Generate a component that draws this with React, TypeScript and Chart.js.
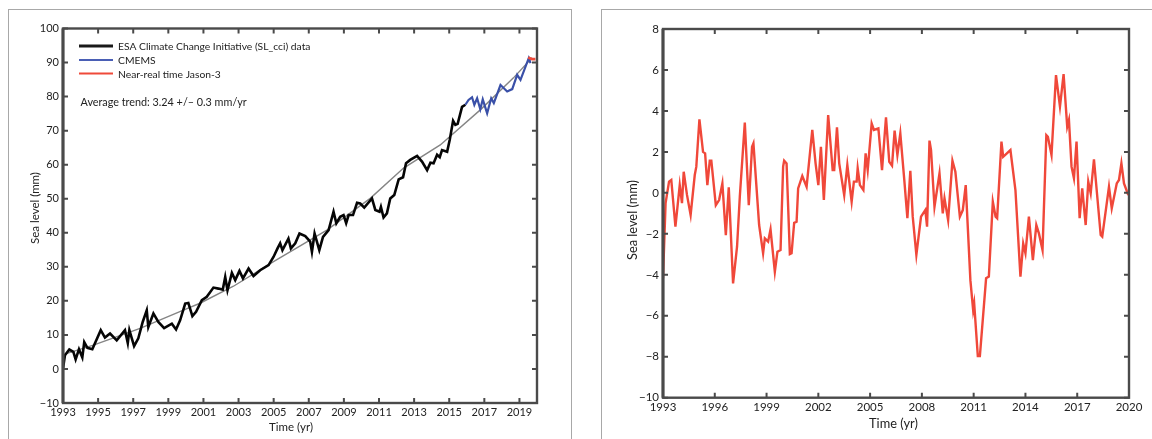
import { useEffect, useRef } from 'react';
import { Chart, registerables } from 'chart.js';

Chart.register(...registerables);

const FONT = 'Lato';
const AXIS = '#4a4a4a';
const TEXT = '#222222';

const leftXTicks = [1993, 1995, 1997, 1999, 2001, 2003, 2005, 2007, 2009, 2011, 2013, 2015, 2017, 2019];
const leftYTicks = [-10, 0, 10, 20, 30, 40, 50, 60, 70, 80, 90, 100];
const rightXTicks = [1993, 1996, 1999, 2002, 2005, 2008, 2011, 2014, 2017, 2020];
const rightYTicks = [-10, -8, -6, -4, -2, 0, 2, 4, 6, 8];

const esaYears = [
  1993.0, 1993.11, 1993.36, 1993.59, 1993.72, 1993.91, 1994.1, 1994.21, 1994.39, 1994.67, 1995.15, 1995.39,
  1995.68, 1996.06, 1996.53, 1996.69, 1996.78, 1997.05, 1997.29, 1997.54, 1997.77, 1997.86, 1998.15, 1998.43,
  1998.76, 1999.2, 1999.44, 1999.67, 1999.96, 2000.14, 2000.37, 2000.58, 2000.91, 2001.19, 2001.57, 2001.85,
  2002.1, 2002.24, 2002.37, 2002.62, 2002.81, 2003.05, 2003.25, 2003.57, 2003.85, 2004.23, 2004.71, 2004.99,
  2005.22, 2005.37, 2005.5, 2005.84, 2005.98, 2006.23, 2006.47, 2006.8, 2007.08, 2007.18, 2007.33, 2007.6,
  2007.81, 2008.13, 2008.41, 2008.57, 2008.79, 2008.98, 2009.13, 2009.27, 2009.52, 2009.75, 2009.93, 2010.16,
  2010.6, 2010.79, 2011.03, 2011.11, 2011.26, 2011.45, 2011.64, 2011.87, 2012.12, 2012.37, 2012.54, 2012.78,
  2013.17, 2013.45, 2013.74, 2013.93, 2014.11, 2014.31, 2014.46, 2014.59, 2014.88, 2015.03, 2015.22, 2015.35,
  2015.48, 2015.73, 2015.92,
];
const esaLevel = [
  0.1, 4, 5.7, 5, 2.8, 5.8, 3.4, 7.9, 6.2, 5.8, 11.4, 9.2,
  10.4, 8.4, 11.4, 7.6, 11.4, 6.7, 9, 13.8, 17.2, 12.3, 16.3, 13.8,
  12, 13.3, 11.6, 14.3, 19.2, 19.4, 15.5, 16.8, 20.2, 21.2, 23.9, 23.6,
  23.3, 27, 23.1, 28.2, 26.1, 28.8, 26.6, 29.5, 27.3, 29, 30.5, 32.9,
  35.4, 36.9, 34.9, 38.3, 35.4, 36.9, 39.8, 39, 37.4, 34.4, 39.8, 34.9,
  38.8, 40.8, 46.2, 42.8, 44.7, 45.2, 42.8, 45.2, 45.2, 48.8, 48.6, 47.4,
  50.1, 46.7, 46.2, 47.6, 44.5, 45.7, 50.1, 51.1, 55.7, 56.3, 60.4, 61.4,
  62.6, 60.9, 58.4, 60.6, 60.4, 62.9, 62.2, 64.3, 63.8, 67.3, 72.9, 71.7,
  72, 77, 77.6,
];

const cmemsYears = [
  2015.92, 2016.1, 2016.3, 2016.43, 2016.59, 2016.77, 2016.91, 2017.16, 2017.39, 2017.54, 2017.92, 2018.3,
  2018.59, 2018.87, 2019.06, 2019.53, 2019.63,
];
const cmemsLevel = [77.6, 79, 79.8, 77.6, 79.5, 76.3, 79.2, 75.1, 79.5, 78.1, 83.4, 81.5, 82.2, 86.4, 84.9, 91.3, 89.8];

const jasonYears = [2019.5, 2019.72, 2019.91];
const jasonLevel = [91.5, 91, 91];

const trendYears = [1993, 1994.73, 1997.39, 1999.86, 2000.8, 2002.71, 2004.99, 2008.03, 2010.5, 2012.4, 2014.49, 2016.77, 2018.66, 2019.72];
const trendLevel = [4.2, 7, 11.9, 17.3, 19.3, 24.3, 31.5, 40.8, 50.1, 59, 65.8, 76.1, 85.5, 91.4];

const anomalyYears = [
  1993.0, 1993.15, 1993.35, 1993.48, 1993.72, 1993.97, 1994.1, 1994.2, 1994.39, 1994.6, 1994.84, 1994.93,
  1995.11, 1995.32, 1995.44, 1995.57, 1995.71, 1995.8, 1996.06, 1996.25, 1996.44, 1996.64, 1996.81, 1997.06,
  1997.29, 1997.45, 1997.74, 1997.97, 1998.16, 1998.24, 1998.57, 1998.8, 1998.9, 1999.09, 1999.23, 1999.48,
  1999.63, 1999.81, 1999.96, 2000.02, 2000.16, 2000.35, 2000.45, 2000.6, 2000.74, 2000.83, 2001.07, 2001.32,
  2001.65, 2001.84, 2002.0, 2002.15, 2002.32, 2002.57, 2002.83, 2002.92, 2003.08, 2003.21, 2003.5, 2003.68,
  2003.93, 2004.06, 2004.22, 2004.28, 2004.41, 2004.61, 2004.74, 2004.86, 2005.09, 2005.22, 2005.48, 2005.69,
  2005.92, 2006.11, 2006.27, 2006.42, 2006.58, 2006.75, 2006.98, 2007.16, 2007.33, 2007.47, 2007.68, 2007.95,
  2008.2, 2008.3, 2008.44, 2008.53, 2008.73, 2009.02, 2009.21, 2009.31, 2009.52, 2009.77, 2009.94, 2010.2,
  2010.37, 2010.54, 2010.81, 2010.97, 2011.03, 2011.24, 2011.36, 2011.72, 2011.88, 2012.11, 2012.27, 2012.36,
  2012.61, 2012.71, 2013.13, 2013.42, 2013.71, 2013.87, 2014.0, 2014.2, 2014.43, 2014.63, 2014.78, 2014.99,
  2015.21, 2015.3, 2015.51, 2015.77, 2016.0, 2016.21, 2016.42, 2016.52, 2016.67, 2016.81, 2016.96, 2017.14,
  2017.29, 2017.49, 2017.64, 2017.78, 2017.97, 2018.36, 2018.45, 2018.84, 2019.0, 2019.29, 2019.42, 2019.56,
  2019.71, 2019.96,
];
const anomalyLevel = [
  -4.17, -0.5, 0.55, 0.63, -1.65, 0.38, -0.5, 1.03, -0.1, -1.08, 0.87, 1.28,
  3.59, 2.0, 1.93, 0.38, 1.57, 1.57, -0.6, -0.35, 0.46, -2.06, 0.27, -4.42,
  -2.63, -0.19, 3.43, -0.6, 2.25, 2.42, -1.57, -2.95, -2.22, -2.38, -1.78, -3.85,
  -2.87, -2.79, 1.28, 1.57, 1.44, -2.99, -2.95, -1.46, -1.41, 0.22, 0.82, 0.3,
  3.07, 1.44, 0.38, 2.25, -0.35, 3.8, 1.11, 1.11, 3.2, 1.44, -0.11, 1.36,
  -0.43, 0.55, 0.55, 1.2, 0.38, 0.14, 1.93, 1.11, 3.39, 3.07, 3.15, 1.11,
  3.69, 1.52, 1.33, 3.04, 1.85, 2.9, 0.63, -1.24, 1.08, -1.16, -3.03, -1.16,
  -0.84, -1.65, 2.55, 2.09, -0.68, 0.95, -1.0, -0.27, -1.33, 1.57, 1.03, -1.16,
  -0.84, 0.38, -4.26, -5.72, -5.4, -7.97, -7.97, -4.17, -4.09, -0.43, -1.16, -1.24,
  2.5, 1.76, 2.09, 0.14, -4.09, -2.47, -2.95, -1.16, -3.28, -1.57, -1.98, -2.79,
  2.82, 2.74, 1.85, 5.75, 4.21, 5.8, 3.23, 3.56, 1.28, 0.71, 2.5, -1.24,
  0.22, -1.57, 0.55, -0.02, 1.64, -2.06, -2.14, 0.3, -0.76, 0.46, 0.63, 1.44,
  0.46, -0.11,
];

const legendItems = [
  { label: 'ESA Climate Change Initiative (SL_cci) data', color: '#1a1a1a', width: 3, y: 46 },
  { label: 'CMEMS', color: '#4a5fb5', width: 2, y: 60 },
  { label: 'Near-real time Jason-3', color: '#ef4a3a', width: 2, y: 73.5 },
];

const toPoints = (xs: number[], ys: number[]) => xs.map((x, i) => ({ x, y: ys[i] }));

// inward ticks, frame and the labels that sit at fixed spots in the figure
const framePlugin = {
  id: 'frame',
  afterDraw(chart: any, _args: any, opts: any) {
    const { ctx, chartArea: a, scales } = chart;
    ctx.save();
    ctx.strokeStyle = AXIS;
    ctx.lineWidth = 2;
    ctx.beginPath();
    for (const t of scales.x.ticks) {
      const px = scales.x.getPixelForValue(t.value);
      ctx.moveTo(px, a.bottom);
      ctx.lineTo(px, a.bottom - 5);
      ctx.moveTo(px, a.top);
      ctx.lineTo(px, a.top + 5);
    }
    for (const t of scales.y.ticks) {
      const py = scales.y.getPixelForValue(t.value);
      ctx.moveTo(a.left, py);
      ctx.lineTo(a.left + 5, py);
      ctx.moveTo(a.right, py);
      ctx.lineTo(a.right - 5, py);
    }
    ctx.stroke();
    ctx.lineWidth = 2.4;
    ctx.strokeRect(a.left, a.top, a.right - a.left, a.bottom - a.top);
    // the left axis is heavier than the other three sides
    ctx.lineWidth = 3;
    ctx.beginPath();
    ctx.moveTo(a.left, a.top);
    ctx.lineTo(a.left, a.bottom);
    ctx.stroke();

    ctx.fillStyle = TEXT;
    ctx.font = `${opts.titleSize}px ${FONT}`;
    ctx.textAlign = 'center';
    ctx.textBaseline = 'middle';
    ctx.fillText('Time (yr)', opts.xTitle[0], opts.xTitle[1]);
    ctx.save();
    ctx.translate(opts.yTitle[0], opts.yTitle[1]);
    ctx.rotate(-Math.PI / 2);
    ctx.fillText('Sea level (mm)', 0, 0);
    ctx.restore();

    if (opts.legend) {
      ctx.textAlign = 'left';
      ctx.font = `10.3px ${FONT}`;
      for (const item of legendItems) {
        ctx.strokeStyle = item.color;
        ctx.lineWidth = item.width;
        ctx.beginPath();
        ctx.moveTo(79, item.y);
        ctx.lineTo(113, item.y);
        ctx.stroke();
        ctx.fillStyle = TEXT;
        ctx.fillText(item.label, 118, item.y + 1);
      }
      ctx.font = `10.8px ${FONT}`;
      ctx.fillText('Average trend: 3.24 +/– 0.3 mm/yr', 80.5, 102.5);
    }
    ctx.restore();
  },
};

function axisOptions(xTicks: number[], yTicks: number[], yMin: number, yMax: number, yWidth: number, xHeight: number, fontSize: number) {
  const tickFont = { family: FONT, size: fontSize };
  return {
    x: {
      type: 'linear',
      min: 1993,
      max: 2020,
      grid: { display: false, tickLength: 0 },
      border: { display: false },
      afterBuildTicks: (scale: any) => {
        scale.ticks = xTicks.map((value) => ({ value }));
      },
      afterFit: (scale: any) => {
        scale.height = xHeight;
      },
      ticks: {
        color: TEXT,
        font: tickFont,
        autoSkip: false,
        maxRotation: 0,
        padding: 3,
        callback: (v: any) => String(v),
      },
    },
    y: {
      type: 'linear',
      min: yMin,
      max: yMax,
      grid: { display: false, tickLength: 0 },
      border: { display: false },
      afterBuildTicks: (scale: any) => {
        scale.ticks = yTicks.map((value) => ({ value }));
      },
      afterFit: (scale: any) => {
        scale.width = yWidth;
      },
      ticks: {
        color: TEXT,
        font: tickFont,
        autoSkip: false,
        padding: 4,
        callback: (v: any) => String(v).replace('-', '−'),
      },
    },
  };
}

function TrendChart() {
  const canvasRef = useRef<HTMLCanvasElement>(null);

  useEffect(() => {
    if (!canvasRef.current) return;
    const chart = new Chart(canvasRef.current, {
      type: 'line',
      data: {
        datasets: [
          { label: 'Near-real time Jason-3', data: toPoints(jasonYears, jasonLevel), borderColor: '#ef4a3a', borderWidth: 2.6, pointRadius: 0 },
          { label: 'CMEMS', data: toPoints(cmemsYears, cmemsLevel), borderColor: '#3a50a8', borderWidth: 2.2, pointRadius: 0 },
          { label: 'ESA Climate Change Initiative (SL_cci) data', data: toPoints(esaYears, esaLevel), borderColor: '#050505', borderWidth: 2.6, pointRadius: 0 },
          { label: 'Trend', data: toPoints(trendYears, trendLevel), borderColor: '#858585', borderWidth: 1.4, pointRadius: 0 },
        ],
      },
      options: {
        responsive: false,
        animation: false,
        layout: { padding: { top: 28.5, right: 38, left: 0, bottom: 0 } },
        plugins: {
          legend: { display: false },
          tooltip: { enabled: false },
          frame: { xTitle: [291, 427], yTitle: [35, 208], legend: true, titleSize: 11.5 },
        },
        scales: axisOptions(leftXTicks, leftYTicks, -10, 100, 63, 36, 11),
      } as any,
      plugins: [framePlugin],
    });
    return () => chart.destroy();
  }, []);

  return <canvas ref={canvasRef} width={575} height={439} style={canvasStyle(0)} />;
}

function AnomalyChart() {
  const canvasRef = useRef<HTMLCanvasElement>(null);

  useEffect(() => {
    if (!canvasRef.current) return;
    const chart = new Chart(canvasRef.current, {
      type: 'line',
      data: {
        datasets: [
          { label: 'Sea level', data: toPoints(anomalyYears, anomalyLevel), borderColor: '#f0483a', borderWidth: 2.4, pointRadius: 0 },
        ],
      },
      options: {
        responsive: false,
        animation: false,
        layout: { padding: { top: 29, right: 23, left: 0, bottom: 0 } },
        plugins: {
          legend: { display: false },
          tooltip: { enabled: false },
          frame: { xTitle: [303.5, 424], yTitle: [43, 220], legend: false, titleSize: 12.8 },
        },
        scales: axisOptions(rightXTicks, rightYTicks, -10, 8, 73, 41.3, 11.5),
      } as any,
      plugins: [framePlugin],
    });
    return () => chart.destroy();
  }, []);

  return <canvas ref={canvasRef} width={562} height={439} style={canvasStyle(590)} />;
}

const canvasStyle = (left: number) =>
  ({ position: 'absolute', left, top: 0, display: 'block', filter: 'blur(0.55px)' }) as const;

const panelStyle = { position: 'absolute', top: 9, bottom: 0, borderTop: '1.5px solid #a8a8a8', borderLeft: '1.5px solid #a8a8a8' } as const;

export default function App() {
  return (
    <div style={{ position: 'fixed', left: 0, top: 0, width: 1152, height: 439, background: '#fff', overflow: 'hidden' }}>
      <div style={{ ...panelStyle, left: 8, width: 562, borderRight: '1.5px solid #a8a8a8' }} />
      <div style={{ ...panelStyle, left: 601, right: 0 }} />
      <TrendChart />
      <AnomalyChart />
    </div>
  );
}
